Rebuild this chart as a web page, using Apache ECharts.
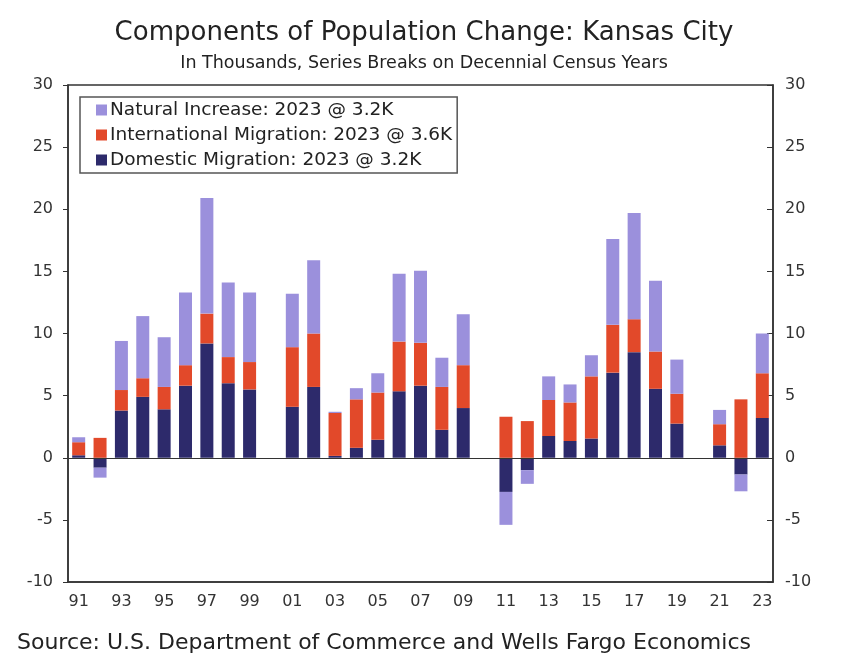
<!DOCTYPE html>
<html>
<head>
<meta charset="utf-8">
<script src="https://cdn.jsdelivr.net/npm/echarts@6/dist/echarts.min.js"></script>
<style>
html,body{margin:0;padding:0;background:#fff;}
#chart{width:848px;height:671px;}
</style>
</head>
<body>
<div id="chart"></div>
<script>
const years = ['91','92','93','94','95','96','97','98','99','00','01','02','03','04','05','06','07','08','09','10','11','12','13','14','15','16','17','18','19','20','21','22','23'];
const domestic = [0.2,-0.8,3.8,4.9,3.9,5.8,9.2,6.0,5.5,null,4.1,5.7,0.15,0.8,1.45,5.35,5.8,2.25,4.0,null,-2.75,-1.0,1.75,1.35,1.55,6.85,8.5,5.55,2.75,null,1.0,-1.35,3.2];
const international = [1.05,1.6,1.65,1.5,1.8,1.65,2.4,2.1,2.2,null,4.8,4.3,3.45,3.9,3.8,4.0,3.45,3.45,3.45,null,3.3,2.95,2.9,3.1,5.0,3.85,2.65,3.0,2.4,null,1.7,4.7,3.6];
const natural = [0.4,-0.8,3.95,5.0,4.0,5.85,9.3,6.0,5.6,null,4.3,5.9,0.1,0.9,1.55,5.45,5.8,2.35,4.1,null,-2.65,-1.1,1.9,1.45,1.7,6.9,8.55,5.7,2.75,null,1.15,-1.35,3.2];
const seriesNames = ['Natural Increase: 2023 @ 3.2K','International Migration: 2023 @ 3.6K','Domestic Migration: 2023 @ 3.2K'];
const colors = {nat:'#9b90dc', intl:'#e2492a', dom:'#2d2a6b'};

const chart = echarts.init(document.getElementById('chart'));
const font = 'DejaVu Sans';
const axisCommon = {
  type:'value', min:-10, max:30, interval:5,
  splitLine:{show:false},
  axisLine:{show:true, lineStyle:{color:'#333', width:1.5}},
  axisLabel:{color:'#333', fontSize:16, fontFamily:font}
};
chart.setOption({
  animation:false,
  backgroundColor:'#fff',
  title:[
    {text:'Components of Population Change: Kansas City', left:'center', top:15,
     textStyle:{fontFamily:font, fontSize:26, fontWeight:'normal', color:'#222'}},
    {text:'In Thousands, Series Breaks on Decennial Census Years', left:'center', top:49,
     textStyle:{fontFamily:font, fontSize:17.5, fontWeight:'normal', color:'#222'}},
    {text:'Source: U.S. Department of Commerce and Wells Fargo Economics', left:12, top:627,
     textStyle:{fontFamily:font, fontSize:22, fontWeight:'normal', color:'#222'}}
  ],
  grid:{left:68, right:75, top:85, bottom:89, show:true, borderColor:'#333', borderWidth:1.5, backgroundColor:'transparent'},
  legend:{
    orient:'vertical', left:80, top:97,
    data:[seriesNames[0], seriesNames[1], seriesNames[2]],
    itemWidth:11, itemHeight:11, itemGap:5,
    borderColor:'#555', borderWidth:1.5, padding:[3,5,3,16],
    textStyle:{fontFamily:font, fontSize:18.5, lineHeight:20, color:'#222', padding:[0,0,0,-2]},
    icon:'rect'
  },
  xAxis:{
    type:'category', data:years,
    axisLine:{onZero:false, lineStyle:{color:'#333', width:1.5}},
    axisTick:{interval:1, length:5, lineStyle:{color:'#333'}},
    axisLabel:{interval:1, color:'#333', fontSize:16, fontFamily:font, margin:12}
  },
  yAxis:[
    Object.assign({}, axisCommon, {position:'left', axisTick:{show:true, length:5, lineStyle:{color:'#333'}}, axisLabel:Object.assign({}, axisCommon.axisLabel, {margin:15})}),
    Object.assign({}, axisCommon, {position:'right', axisTick:{show:true, inside:true, length:6, lineStyle:{color:'#333'}}, axisLabel:Object.assign({}, axisCommon.axisLabel, {margin:12})})
  ],
  series:[
    {name:seriesNames[2], type:'bar', stack:'pop', data:domestic, barWidth:13, itemStyle:{color:colors.dom},
     markLine:{silent:true, symbol:'none', label:{show:false}, lineStyle:{color:'#333', width:1.2, type:'solid'}, data:[{yAxis:0}]}},
    {name:seriesNames[1], type:'bar', stack:'pop', data:international, barWidth:13, itemStyle:{color:colors.intl}},
    {name:seriesNames[0], type:'bar', stack:'pop', data:natural, barWidth:13, itemStyle:{color:colors.nat}}
  ]
});
</script>
</body>
</html>
